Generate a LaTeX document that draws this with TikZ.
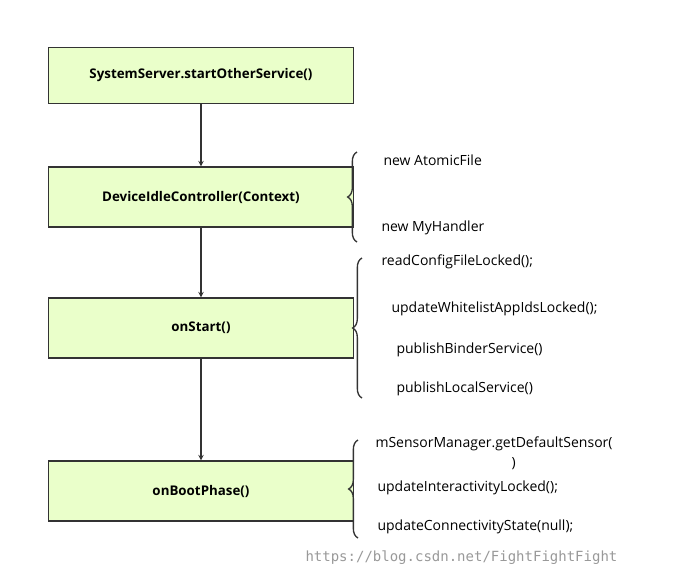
\documentclass[tikz,border=0pt]{standalone}
\usepackage{fontspec}
\setmainfont{Open Sans}
\setmonofont{DejaVu Sans Mono}
\usetikzlibrary{positioning, decorations.pathreplacing}
\definecolor{boxFill}{HTML}{EAFFCA}
\definecolor{lineGray}{HTML}{333333}
\tikzset{
  stepbox/.style={draw=lineGray, fill=boxFill, line width=1pt, minimum width=305*0.75pt, minimum height=60*0.75pt, font=\fontsize{10}{12}\selectfont\bfseries},
  callText/.style={anchor=west, font=\fontsize{10.5}{12}\selectfont, inner sep=0pt},
  bracket/.style={decorate, decoration={brace, amplitude=7pt}, line width=1pt, draw=lineGray}
}
\begin{document}
\begin{tikzpicture}[x=0.75pt, y=-0.75pt, >=stealth, thick]
\useasboundingbox (0,0) rectangle (687,579);
\node[stepbox, minimum height=56*0.75pt] (start) at (201,75.5) {SystemServer.startOtherService()};
\node[stepbox] (ctor) at (201,197) {DeviceIdleController(Context)};
\node[stepbox] (onstart) at (201,328) {onStart()};
\node[stepbox] (boot) at (201,491) {onBootPhase()};
\draw [->, lineGray] (start) -- (ctor);
\draw [->, lineGray] (ctor) -- (onstart);
\draw [->, lineGray] (onstart) -- (boot);
% braces
\coordinate (b1s) at (357,242); \coordinate (b1e) at (357,152);
\coordinate (b2s) at (362,398); \coordinate (b2e) at (362,258);
\coordinate (b3s) at (358,538); \coordinate (b3e) at (358,440);
\draw [bracket] (b1s) -- (b1e);
\draw [bracket] (b2s) -- (b2e);
\draw [bracket] (b3s) -- (b3e);
\node[callText] (t11) at (383,160) {new AtomicFile};
\node[callText] (t12) at (381,228) {new MyHandler};
\node[callText] (t21) at (381,262) {readConfigFileLocked();};
\node[callText] (t22) at (391,309) {updateWhitelistAppIdsLocked();};
\node[callText] (t23) at (396,350) {publishBinderService()};
\node[callText] (t24) at (396,389) {publishLocalService()};
\node[callText] (t31) at (375,444) {mSensorManager.getDefaultSensor(};
\node[callText] (t32) at (511,464) {)};
\node[callText] (t33) at (377,488) {updateInteractivityLocked();};
\node[callText] (t34) at (377,527) {updateConnectivityState(null);};
\node[anchor=west, inner sep=0pt, text=black!40, font=\ttfamily\fontsize{10.5}{12}\selectfont] (mark) at (305,558) {https://blog.csdn.net/FightFightFight};
\end{tikzpicture}
\end{document}
